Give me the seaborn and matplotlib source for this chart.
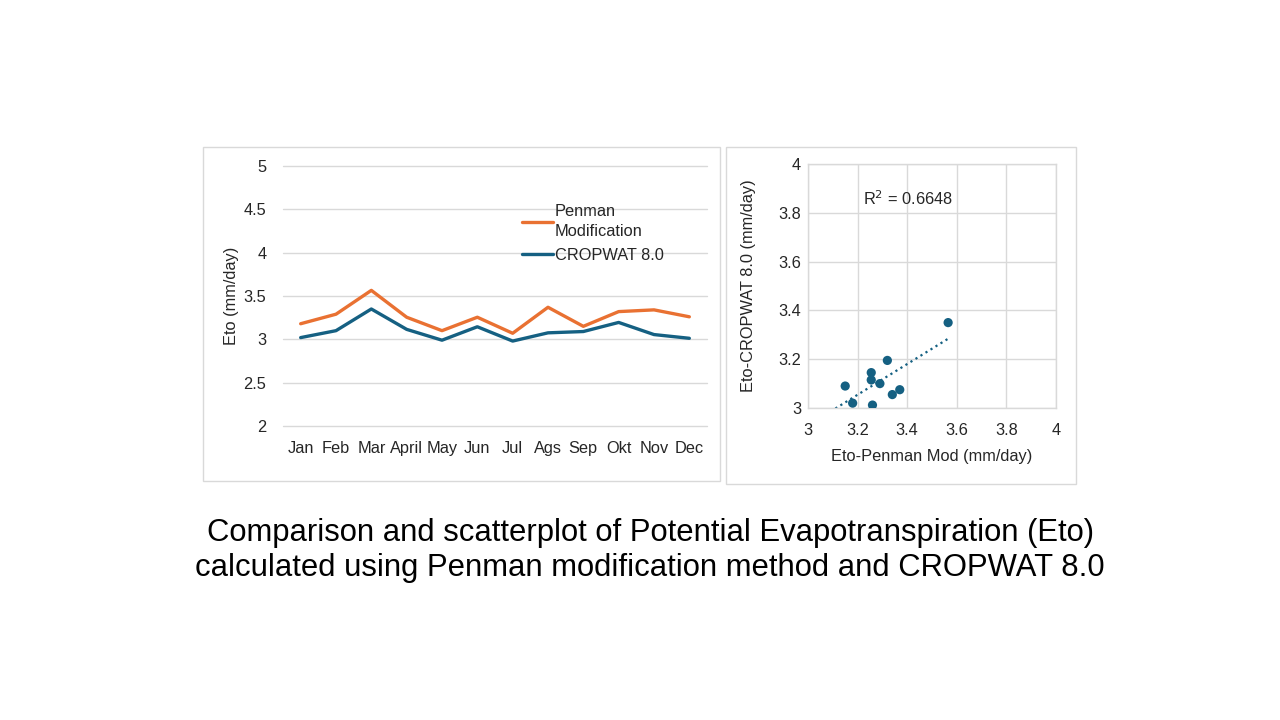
import numpy as np
import pandas as pd
import matplotlib
matplotlib.use("Agg")
import matplotlib.pyplot as plt
import seaborn as sns
from matplotlib.patches import Rectangle

months = ["Jan", "Feb", "Mar", "April", "May", "Jun", "Jul", "Ags", "Sep", "Okt", "Nov", "Dec"]
penman = [3.18, 3.29, 3.565, 3.255, 3.10, 3.255, 3.07, 3.37, 3.15, 3.32, 3.34, 3.26]
cropwat = [3.02, 3.10, 3.35, 3.115, 2.99, 3.145, 2.98, 3.075, 3.09, 3.195, 3.055, 3.012]
series_names = ["Penman\nModification", "CROPWAT 8.0"]
series_colors = ["#E97132", "#156082"]
r2_text = "R$^2$ = 0.6648"
title_lines = ["Comparison and scatterplot of Potential Evapotranspiration (Eto)",
               "calculated using Penman modification method and CROPWAT 8.0"]

sns.set_theme(style="white")
plt.rcParams['font.family'] = ['Liberation Sans', 'DejaVu Sans']

fig = plt.figure(figsize=(12.8, 7.2), dpi=100)
fig.patch.set_facecolor("white")

grid_c = "#D9D9D9"
txt_c = "#262626"
fs = 11.8

# panel frames
fig.patches.append(Rectangle((203/1280, 1-481/720), (720-203)/1280, (481-147)/720,
                             transform=fig.transFigure, fill=False, ec=grid_c, lw=1))
fig.patches.append(Rectangle((726/1280, 1-484/720), (1076-726)/1280, (484-147)/720,
                             transform=fig.transFigure, fill=False, ec=grid_c, lw=1))

# ---------- left line chart ----------
ax1 = fig.add_axes([283/1280, 1-426/720, (707-283)/1280, (426-166)/720])
df = pd.DataFrame({
    "month": months * 2,
    "x": list(range(len(months))) * 2,
    "value": penman + cropwat,
    "series": [series_names[0]] * len(months) + [series_names[1]] * len(months),
})
sns.lineplot(data=df, x="x", y="value", hue="series", palette=series_colors,
             hue_order=series_names, linewidth=2.4, ax=ax1, legend=True)
ax1.set_xlim(-0.5, len(months) - 0.5)
ax1.set_ylim(2, 5)
ax1.set_yticks([2, 2.5, 3, 3.5, 4, 4.5, 5])
ax1.set_yticklabels(["2", "2.5", "3", "3.5", "4", "4.5", "5"])
ax1.set_xticks(range(len(months)))
ax1.set_xticklabels(months)
ax1.yaxis.grid(True, color=grid_c, lw=1)
ax1.xaxis.grid(False)
for gl in ax1.yaxis.get_gridlines():
    gl.set_clip_on(False)
for s in ax1.spines.values():
    s.set_visible(False)
ax1.tick_params(axis="y", length=0, pad=12, labelsize=fs, labelcolor=txt_c)
ax1.tick_params(axis="x", length=0, pad=11, labelsize=fs, labelcolor=txt_c)
ax1.set_xlabel("")
ax1.set_ylabel("Eto (mm/day)", fontsize=fs, color=txt_c, labelpad=3)
leg = ax1.legend(loc="upper left", bbox_to_anchor=(0.548, 0.88), frameon=False,
                 fontsize=fs, handlelength=1.9, handletextpad=0.1, labelspacing=0.55,
                 borderaxespad=0)
for t in leg.get_texts():
    t.set_color(txt_c)
    t.set_linespacing(1.45)

# ---------- right scatter ----------
ax2 = fig.add_axes([808/1280, 1-408/720, (1056-808)/1280, (408-164)/720])
pen = np.array(penman)
crp = np.array(cropwat)
sdf = pd.DataFrame({"pen": pen, "crp": crp})
vis = sdf[(sdf.pen >= 3) & (sdf.crp >= 3)]
sns.regplot(data=sdf, x="pen", y="crp", scatter=False, ci=None, truncate=True, ax=ax2,
            line_kws={"color": series_colors[1], "linestyle": ":", "linewidth": 1.6})
sns.scatterplot(data=vis, x="pen", y="crp", color=series_colors[1], s=44,
                edgecolor="none", ax=ax2, zorder=3)
ax2.set_xlim(3, 4)
ax2.set_ylim(3, 4)
ticks = [3, 3.2, 3.4, 3.6, 3.8, 4]
ax2.set_xticks(ticks)
ax2.set_yticks(ticks)
ax2.set_xticklabels(["3", "3.2", "3.4", "3.6", "3.8", "4"])
ax2.set_yticklabels(["3", "3.2", "3.4", "3.6", "3.8", "4"])
ax2.grid(True, color=grid_c, lw=1)
for s in ax2.spines.values():
    s.set_visible(True)
    s.set_color(grid_c)
    s.set_linewidth(1)
ax2.tick_params(axis="both", length=0, labelsize=fs, labelcolor=txt_c)
ax2.tick_params(axis="y", pad=5)
ax2.tick_params(axis="x", pad=11)
ax2.set_xlabel("Eto-Penman Mod (mm/day)", fontsize=fs, color=txt_c, labelpad=8)
ax2.set_ylabel("Eto-CROPWAT 8.0 (mm/day)", fontsize=fs, color=txt_c, labelpad=16)
ax2.text(3.22, 3.86, r2_text, fontsize=fs, color=txt_c, va="center", ha="left")

# ---------- caption ----------
fig.text(0.508, 1-533/720, title_lines[0], ha="center", va="center", fontsize=22.3,
         color="black")
fig.text(0.508, 1-568/720, title_lines[1], ha="center", va="center", fontsize=22.3,
         color="black")

fig.savefig("out.png", dpi=100, facecolor="white")
